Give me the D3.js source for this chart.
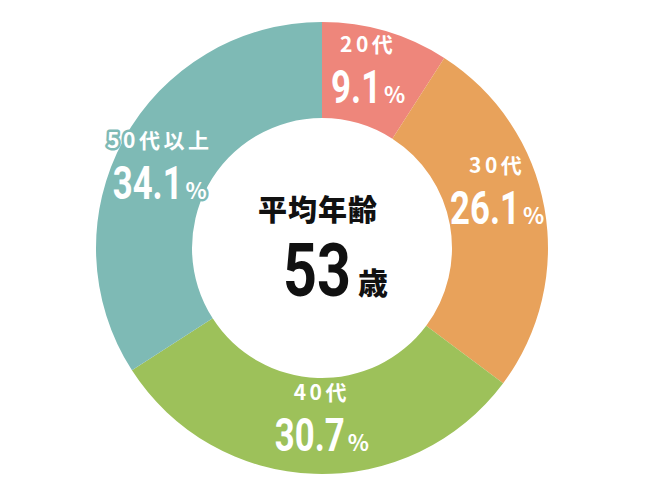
<!DOCTYPE html>
<html>
<head>
<meta charset="utf-8">
<script src="https://cdn.jsdelivr.net/npm/d3@7"></script>
<style>
  body { margin: 0; background: #fff; }
  .cat { font-family: "Noto Sans CJK JP", sans-serif; font-weight: 700; fill: #fff; letter-spacing: 3.5px; }
  .num { font-family: Roboto, "Noto Sans", sans-serif; font-weight: 700; fill: #fff; }
  .unit { font-family: "Noto Sans CJK JP", sans-serif; font-weight: 700; fill: #fff; }
  .center { font-family: "Noto Sans CJK JP", sans-serif; font-weight: 900; fill: #111; }
</style>
</head>
<body>
<div id="chart"></div>
<script>
var categories = ["20代", "30代", "40代", "50代以上"];
var shares = [9.1, 26.1, 30.7, 34.1];
var colors = ["#EE867B", "#E8A25B", "#9DC15A", "#7EBAB5"];
var centerTitle = "平均年齢";
var averageAge = "53";
var ageUnit = "歳";

var svgWidth = 650;
var svgHeight = 500;
var cx = 322, cy = 248;
var outerR = 226, innerR = 130;
var squeeze = 0.74;

var svg = d3.select("#chart")
  .append("svg")
  .attr("width", svgWidth)
  .attr("height", svgHeight);

var g = svg.append("g")
  .attr("transform", `translate(${cx}, ${cy})`);

var pie = d3.pie().sort(null).value(d => d);
var arcs = pie(shares);

var arc = d3.arc().innerRadius(innerR).outerRadius(outerR);

g.selectAll("path.slice")
  .data(arcs)
  .enter()
  .append("path")
  .attr("class", "slice")
  .attr("d", arc)
  .attr("fill", (d, i) => colors[i]);

// small nudges so labels sit like the original
function nudge(i) {
  if (i === 1) return [0, -20];
  if (i === 2) return [6, -3];
  if (i === 3) return [-6, 8];
  return [-4, -2];
}

function outline(sel) {
  sel.attr("stroke", (d, i) => i === 3 ? colors[i] : "none")
    .attr("stroke-width", 5)
    .attr("stroke-linejoin", "round")
    .attr("paint-order", "stroke");
}

var labels = g.selectAll("g.label")
  .data(arcs)
  .enter()
  .append("g")
  .attr("class", "label")
  .attr("transform", (d, i) => {
    var c = arc.centroid(d);
    var n = nudge(i);
    return `translate(${c[0] + n[0]}, ${c[1] + n[1]})`;
  });

labels.append("text")
  .attr("class", "cat")
  .attr("text-anchor", "middle")
  .attr("y", -23)
  .attr("font-size", 21)
  .call(outline)
  .text((d, i) => categories[i]);

labels.each(function (d, i) {
  var lab = d3.select(this);
  var numG = lab.append("g");
  var num = numG.append("text")
    .attr("class", "num")
    .attr("y", 28)
    .attr("font-size", 47)
    .text(d.data.toFixed(1));
  var pct = lab.append("text")
    .attr("class", "unit")
    .attr("y", 28)
    .attr("font-size", 22)
    .text("%");
  if (i === 3) { num.call(outline); pct.call(outline); }
  num.attr("stroke", i === 3 ? colors[i] : "none");
  pct.attr("stroke", i === 3 ? colors[i] : "none");

  var numW = num.node().getComputedTextLength() * squeeze;
  var pctW = pct.node().getComputedTextLength();
  var left = -(numW + 3 + pctW) / 2;
  numG.attr("transform", `translate(${left}, 0) scale(${squeeze}, 1)`);
  pct.attr("x", left + numW + 3);
});

// center text
g.append("text")
  .attr("class", "center")
  .attr("text-anchor", "middle")
  .attr("x", -4)
  .attr("y", -27)
  .attr("font-size", 29)
  .attr("letter-spacing", 1)
  .text(centerTitle);

var ageG = g.append("g")
  .attr("transform", "translate(-39, 48) scale(0.8, 1)");

ageG.append("text")
  .attr("class", "num")
  .style("fill", "#111")
  .attr("font-size", 74)
  .text(averageAge);

g.append("text")
  .attr("class", "center")
  .attr("x", 36)
  .attr("y", 46)
  .attr("font-size", 30)
  .text(ageUnit);
</script>
</body>
</html>
